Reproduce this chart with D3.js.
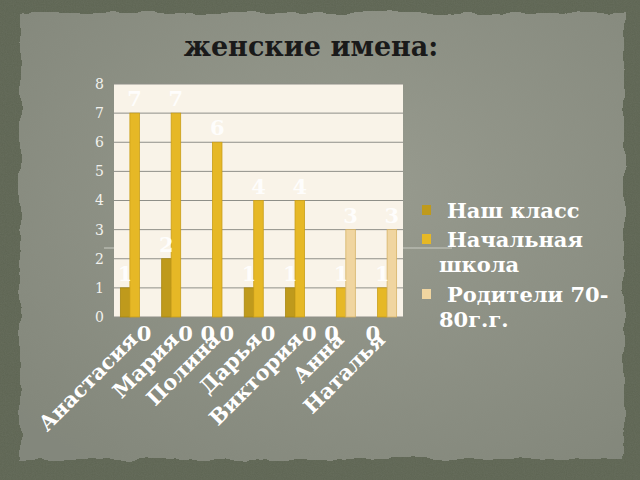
<!DOCTYPE html>
<html>
<head>
<meta charset="utf-8">
<script src="https://cdn.jsdelivr.net/npm/d3@7"></script>
<style>
  html, body { margin: 0; padding: 0; background: #5e6553; }
  svg { display: block; }
</style>
</head>
<body>
<div id="chart"></div>
<script>
/* chart data */
var names = ["Анастасия", "Мария", "Полина", "Дарья", "Виктория", "Анна", "Наталья"];
var seriesNames = ["Наш класс", "Начальная школа", "Родители 70-80г.г."];
var ourClass = [1, 2, 0, 1, 1, 0, 0];
var primary = [7, 7, 6, 4, 4, 1, 1];
var parents = [0, 0, 0, 0, 0, 3, 3];
var yTicks = [0, 1, 2, 3, 4, 5, 6, 7, 8];

var colors = ["#bf9a1c", "#e6b826", "#f0d5a0"];
var strokes = ["#a98812", "#c99e18", "#d6b468"];
var width = 640, height = 480;
var serif = "'DejaVu Serif', 'Liberation Serif', serif";

var svg = d3.select("#chart").append("svg")
	.attr("width", width)
	.attr("height", height);

var defs = svg.append("defs");

// paper panel: soft gradient plus grain
var grad = defs.append("radialGradient").attr("id", "panelGrad")
	.attr("cx", "55%").attr("cy", "40%").attr("r", "75%");
grad.append("stop").attr("offset", "0%").attr("stop-color", "#989b8f");
grad.append("stop").attr("offset", "100%").attr("stop-color", "#83877b");

var rough = defs.append("filter").attr("id", "rough")
	.attr("x", "-5%").attr("y", "-5%").attr("width", "110%").attr("height", "110%");
rough.append("feTurbulence").attr("type", "fractalNoise")
	.attr("baseFrequency", 0.04).attr("numOctaves", 3).attr("seed", 4).attr("result", "noise");
rough.append("feDisplacementMap").attr("in", "SourceGraphic").attr("in2", "noise")
	.attr("scale", 9).attr("xChannelSelector", "R").attr("yChannelSelector", "G");

var grain = defs.append("filter").attr("id", "grain");
grain.append("feTurbulence").attr("type", "fractalNoise")
	.attr("baseFrequency", 0.9).attr("numOctaves", 2).attr("seed", 2);
grain.append("feColorMatrix").attr("type", "matrix")
	.attr("values", "0 0 0 0 0.3  0 0 0 0 0.32  0 0 0 0 0.27  0 0 0 0.18 0");

// outer frame
svg.append("rect")
	.attr("width", width).attr("height", height)
	.attr("fill", "#5d6452");
svg.append("rect")
	.attr("width", width).attr("height", height)
	.attr("filter", "url(#grain)");

svg.append("rect")
	.attr("x", 20).attr("y", 13)
	.attr("width", 604).attr("height", 446)
	.attr("fill", "url(#panelGrad)")
	.attr("filter", "url(#rough)");

// title
svg.append("text")
	.attr("x", 311).attr("y", 56)
	.attr("text-anchor", "middle")
	.style("font-family", serif)
	.style("font-weight", "bold")
	.style("font-size", "27px")
	.style("fill", "#1a1a1a")
	.text("женские имена:");

// decorative template line
svg.append("line")
	.attr("x1", 104).attr("x2", 452)
	.attr("y1", 248).attr("y2", 248)
	.attr("stroke", "#c9cbc2").attr("stroke-width", 1);

/* scales */
var x = d3.scaleBand().domain(names).range([114, 403]).padding(0);
var xSub = d3.scaleBand().domain(seriesNames).range([0, x.bandwidth()])
	.paddingInner(0).paddingOuter(0.67);
var y = d3.scaleLinear().domain([0, 8]).range([317, 84]);

var plot = svg.append("g");

plot.append("rect")
	.attr("x", x.range()[0]).attr("y", y(8))
	.attr("width", x.range()[1] - x.range()[0])
	.attr("height", y(0) - y(8))
	.attr("fill", "#f9f3e8");

plot.selectAll(".grid")
	.data(yTicks)
	.enter()
	.append("line")
	.attr("class", "grid")
	.attr("x1", x.range()[0]).attr("x2", x.range()[1])
	.attr("y1", function(d) { return y(d); })
	.attr("y2", function(d) { return y(d); })
	.attr("stroke", "#8f8f88").attr("stroke-width", 1);

// y axis labels
var yAxis = d3.axisLeft(y).tickValues(yTicks).tickSize(0).tickPadding(10);
var yg = svg.append("g").attr("transform", "translate(" + x.range()[0] + ",0)").call(yAxis);
yg.select(".domain").remove();
yg.selectAll("text")
	.style("font-family", serif)
	.style("font-size", "14px")
	.style("fill", "#f2f2ee");

/* bars */
var rows = [];
names.forEach(function(n, i) {
	[ourClass, primary, parents].forEach(function(s, k) {
		rows.push({name: n, series: seriesNames[k], k: k, value: s[i]});
	});
});

plot.selectAll(".bar")
	.data(rows.filter(function(d) { return d.value > 0; }))
	.enter()
	.append("rect")
	.attr("class", "bar")
	.attr("x", function(d) { return x(d.name) + xSub(d.series); })
	.attr("y", function(d) { return y(d.value); })
	.attr("width", xSub.bandwidth())
	.attr("height", function(d) { return y(0) - y(d.value); })
	.attr("fill", function(d) { return colors[d.k]; })
	.attr("stroke", function(d) { return strokes[d.k]; })
	.attr("stroke-width", 0.8);

// value labels (zeros sit under the axis)
svg.selectAll(".val")
	.data(rows)
	.enter()
	.append("text")
	.attr("class", "val")
	.attr("x", function(d) { return x(d.name) + xSub(d.series) + xSub.bandwidth() / 2; })
	.attr("y", function(d) { return d.value > 0 ? y(d.value) - 7 : y(0) + 24; })
	.attr("text-anchor", "middle")
	.style("font-family", serif)
	.style("font-weight", "bold")
	.style("font-size", "21px")
	.style("fill", "#ffffff")
	.style("fill-opacity", function(d) { return d.value > 0 ? 0.88 : 1; })
	.text(function(d) { return d.value; });

// category labels
svg.selectAll(".cat")
	.data(names)
	.enter()
	.append("text")
	.attr("class", "cat")
	.attr("text-anchor", "end")
	.attr("transform", function(d) {
		return "translate(" + (x(d) + x.bandwidth() / 2 + 4) + "," + 341 + ") rotate(-45)";
	})
	.style("font-family", serif)
	.style("font-weight", "bold")
	.style("font-size", "21px")
	.style("fill", "#ffffff")
	.text(function(d) { return d; });

/* legend */
var legendLines = [
	{k: 0, lines: ["Наш класс"], y: 218},
	{k: 1, lines: ["Начальная", "школа"], y: 247},
	{k: 2, lines: ["Родители 70-", "80г.г."], y: 302}
];

var leg = svg.append("g");
legendLines.forEach(function(item) {
	leg.append("rect")
		.attr("x", 422).attr("y", item.y - 13)
		.attr("width", 9).attr("height", 10)
		.attr("fill", colors[item.k]);
	var t = leg.append("text")
		.style("font-family", serif)
		.style("font-weight", "bold")
		.style("font-size", "21px")
		.style("fill", "#ffffff");
	item.lines.forEach(function(line, j) {
		t.append("tspan")
			.attr("x", j == 0 ? 447 : 439)
			.attr("y", item.y + j * 25)
			.text(line);
	});
});
</script>
</body>
</html>
